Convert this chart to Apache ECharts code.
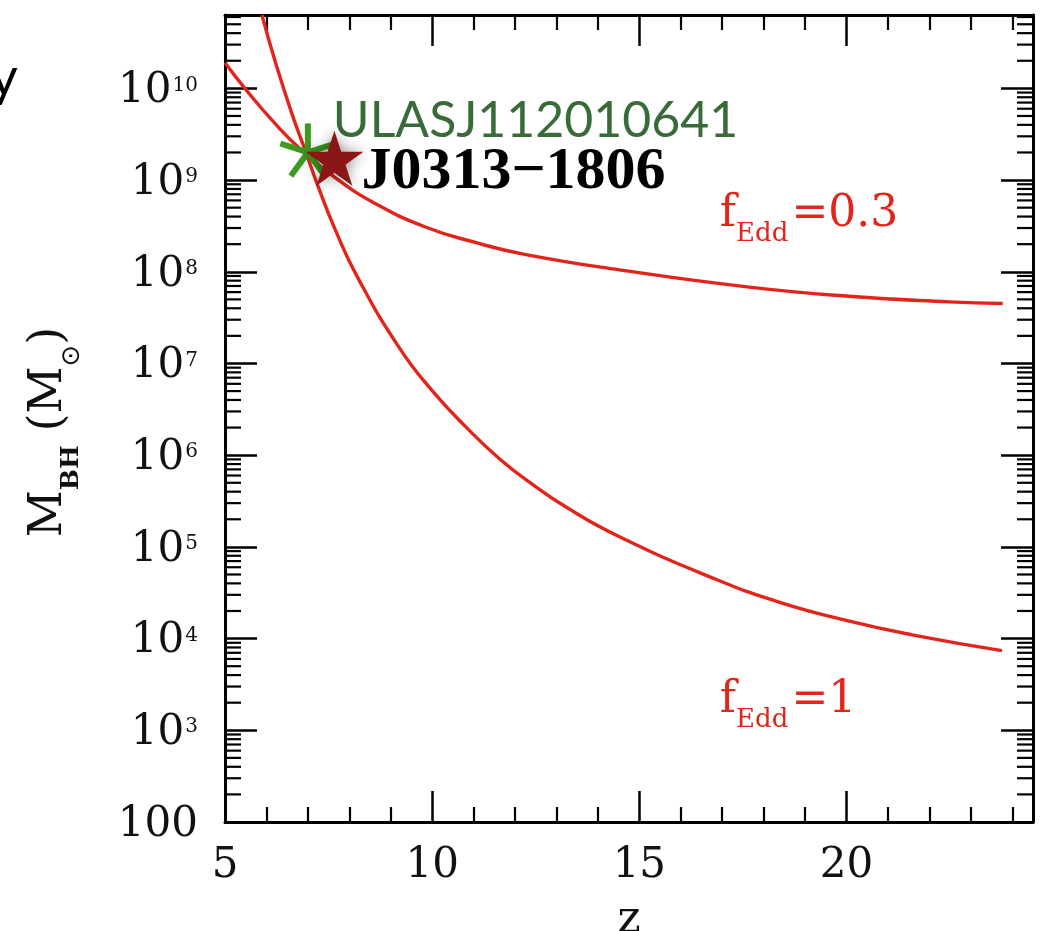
<!DOCTYPE html>
<html><head><meta charset="utf-8">
<script src="https://cdn.jsdelivr.net/npm/echarts@6/dist/echarts.min.js"></script>
<style>html,body{margin:0;padding:0;background:#fff}#c{width:1050px;height:931px}</style>
</head><body><div id="c"></div>
<script>
// ---- data ----
// f_Edd = 0.3 curve
const zFedd03 = [5.00, 5.48, 6.20, 6.86, 7.65, 8.61, 9.82, 11.02, 12.23, 14.52, 17.65, 20.06, 22.47, 23.77];
const mFedd03 = [1.9e10, 1.0e10, 4.17e9, 2.09e9, 1.07e9, 5.6e8, 3.1e8, 2.1e8, 1.55e8, 1.05e8, 6.8e7, 5.4e7, 4.7e7, 4.5e7];
// f_Edd = 1 curve
const zFedd1 = [5.89, 6.24, 6.61, 6.93, 7.24, 7.65, 8.20, 9.22, 10.01, 10.83, 11.63, 12.42, 13.24, 14.52, 16.76, 18.37, 19.99, 21.58, 23.75];
const mFedd1 = [6.3e10, 1.78e10, 5.37e9, 2.14e9, 8.7e8, 2.95e8, 8.7e7, 1.45e7, 5.0e6, 2.0e6, 9.1e5, 4.8e5, 2.7e5, 1.29e5, 4.6e4, 2.5e4, 1.58e4, 1.1e4, 7.4e3];
// quasars
const quasarNames = ['ULASJ112010641', 'J0313\u22121806'];
const quasarZ = [7.0, 7.64];
const quasarMass = [2.0e9, 1.6e9];
// curve labels
const eddValues = ['0.3', '1'];
const eddLabelZ = [16.93, 16.93];
const eddLabelMass = [4.0e8, 2.0e3];
// axes
const xTickLabels = [5, 10, 15, 20];
const yTickExponents = [2, 3, 4, 5, 6, 7, 8, 9, 10];

// ---- chart ----
const X_MIN = 5, X_MAX = 24.5, Y_MIN = 2, Y_MAX = 10.8;
const lg = Math.log10;
const red = '#e3241b';
const axisFont = 'DejaVu Serif';
const black = '#000';

const minorY = [];
for (let n = 2; n <= 10; n++) for (let k = 2; k <= 9; k++) {
  const v = n + lg(k); if (v < Y_MAX) minorY.push(v);
}

const starPath = (() => {
  let d = '';
  for (let i = 0; i < 10; i++) {
    const r = i % 2 === 0 ? 1 : 0.382;
    const a = (-90 + 36 * i) * Math.PI / 180;
    d += (i === 0 ? 'M' : 'L') + (r * Math.cos(a)).toFixed(4) + ' ' + (r * Math.sin(a)).toFixed(4) + ' ';
  }
  return 'path://' + d + 'Z';
})();

const yLabel = v => {
  if (Math.abs(v - Math.round(v)) > 1e-6) return '';
  const n = Math.round(v);
  if (yTickExponents.indexOf(n) < 0) return '';
  if (n === 2) return '{b|100}';
  return '{b|10}{s|' + n + '}';
};
const xLabel = v => (xTickLabels.indexOf(v) >= 0 ? String(v) : '');

const xCommon = {
  type: 'value', min: X_MIN, max: X_MAX, interval: 5,
  splitLine: {show: false}, minorSplitLine: {show: false},
  axisLine: {show: true, onZero: false, lineStyle: {color: black, width: 3}},
  axisTick: {show: true, inside: true, length: 31, lineStyle: {color: black, width: 2.5}},
  minorTick: {show: true, splitNumber: 5, length: 15, lineStyle: {color: black, width: 2.2}}
};
const yCommon = {
  type: 'value', min: Y_MIN, max: Y_MAX, interval: 1,
  splitLine: {show: false},
  axisLine: {show: true, onZero: false, lineStyle: {color: black, width: 3}},
  axisTick: {show: true, inside: true, length: 32, lineStyle: {color: black, width: 2.5}},
  minorTick: {show: false}
};

const chart = echarts.init(document.getElementById('c'));
chart.setOption({
  animation: false,
  backgroundColor: '#fff',
  graphic: [{
    type: 'text', x: -10, y: 52,
    style: {text: 'y', fontFamily: 'Lato', fontSize: 54, lineHeight: 54, fill: '#000', align: 'left', verticalAlign: 'top'}
  }],
  grid: {left: 225, right: 17, top: 15, bottom: 109, containLabel: false, outerBoundsMode: 'none'},
  xAxis: [
    Object.assign({}, xCommon, {
      position: 'bottom',
      axisLabel: {margin: 21, formatter: xLabel, fontFamily: axisFont, fontSize: 42, lineHeight: 46, color: '#111'},
      name: 'z', nameLocation: 'middle', nameGap: 77,
      nameTextStyle: {fontFamily: axisFont, fontSize: 44, lineHeight: 44, color: '#111'}
    }),
    Object.assign({}, xCommon, {position: 'top', axisLabel: {show: false}})
  ],
  yAxis: [
    Object.assign({}, yCommon, {
      position: 'left',
      axisLabel: {
        margin: 27, formatter: yLabel,
        rich: {
          b: {fontFamily: axisFont, fontSize: 42, lineHeight: 46, verticalAlign: 'top', padding: [5, 0, 0, 0], color: '#111'},
          s: {fontFamily: axisFont, fontSize: 20, lineHeight: 22, verticalAlign: 'top', padding: [10, 0, 0, 1], color: '#111'}
        }
      },
      name: '{m|M}{sb|BH}{sp| }{m|(M}{sun|\u2299}{m|)}',
      nameLocation: 'middle', nameGap: 147,
      nameTextStyle: {
        padding: [0, 27, 0, 0],
        rich: {
          m: {fontFamily: axisFont, fontSize: 46, lineHeight: 52, verticalAlign: 'top', color: '#111'},
          sb: {fontFamily: axisFont, fontWeight: 'bold', fontSize: 25, lineHeight: 26, verticalAlign: 'top', padding: [33, 0, 0, 0], color: '#111'},
          sp: {fontFamily: axisFont, fontSize: 46, lineHeight: 52, verticalAlign: 'top', width: 14},
          sun: {fontFamily: 'DejaVu Sans', fontSize: 26, lineHeight: 26, verticalAlign: 'top', padding: [33, 0, 0, 0], color: '#111'}
        }
      }
    }),
    Object.assign({}, yCommon, {position: 'right', axisLabel: {show: false}})
  ],
  series: [
    {
      type: 'line', name: 'fEdd=0.3', xAxisIndex: 0, yAxisIndex: 0, z: 2,
      data: zFedd03.map((z, i) => [z, lg(mFedd03[i])]),
      showSymbol: false, symbol: 'none', smooth: 0.5,
      lineStyle: {color: red, width: 3.4}
    },
    {
      type: 'line', name: 'fEdd=1', xAxisIndex: 0, yAxisIndex: 0, z: 2,
      data: zFedd1.map((z, i) => [z, lg(mFedd1[i])]),
      showSymbol: false, symbol: 'none', smooth: 0.5,
      lineStyle: {color: red, width: 3.4}
    },
    {
      type: 'custom', name: 'ULAS', xAxisIndex: 0, yAxisIndex: 0, z: 3, silent: true, clip: false,
      data: [[quasarZ[0], lg(quasarMass[0])]],
      renderItem: (params, api) => {
        const c = api.coord([api.value(0), api.value(1)]);
        const L = 29;
        const children = [90, 162, 234, 306, 18].map(a => {
          const r = a * Math.PI / 180;
          return {type: 'line', shape: {x1: c[0], y1: c[1], x2: c[0] + L * Math.cos(r), y2: c[1] - L * Math.sin(r)},
            style: {stroke: '#3d9a1f', lineWidth: 6, lineCap: 'butt'}};
        });
        children.push({type: 'text', x: c[0] + 25, y: c[1] - 32,
          style: {text: quasarNames[0], fontFamily: 'Lato', fontSize: 50, fill: '#386b38', align: 'left', verticalAlign: 'middle'}});
        return {type: 'group', children};
      }
    },
    {
      type: 'scatter', name: 'J0313', xAxisIndex: 0, yAxisIndex: 0, z: 4,
      data: [{name: quasarNames[1], value: [quasarZ[1], lg(quasarMass[1])]}],
      symbol: starPath, symbolSize: [58, 55], symbolOffset: [0, -3],
      itemStyle: {color: '#8a1616', opacity: 1, shadowBlur: 14, shadowColor: 'rgba(0,0,0,0.45)'},
      label: {show: true, formatter: '{b}', position: 'right', distance: 0, offset: [-2, 14],
        fontFamily: 'Liberation Serif', fontWeight: 'bold', fontSize: 60, color: '#000'}
    },
    {
      type: 'scatter', name: 'eddLabels', xAxisIndex: 0, yAxisIndex: 0, z: 4, silent: true,
      data: eddValues.map((v, i) => ({name: v, value: [eddLabelZ[i], lg(eddLabelMass[i])]})),
      symbolSize: 1, itemStyle: {color: 'rgba(0,0,0,0)', opacity: 1},
      label: {
        show: true, position: 'right', distance: 0, align: 'left', verticalAlign: 'middle',
        formatter: p => '{f|f}{sub|Edd}{eq|=' + p.name + '}',
        rich: {
          f: {fontFamily: axisFont, fontSize: 44, lineHeight: 48, verticalAlign: 'top', color: red},
          sub: {fontFamily: axisFont, fontSize: 26, lineHeight: 28, verticalAlign: 'top', padding: [29, 3, 0, 0], color: red},
          eq: {fontFamily: axisFont, fontSize: 44, lineHeight: 48, verticalAlign: 'top', color: red}
        }
      }
    },
    {
      type: 'custom', name: 'yMinorTicks', xAxisIndex: 0, yAxisIndex: 0, z: 5, silent: true, clip: false,
      data: minorY.map(v => [X_MIN, v]),
      renderItem: (params, api) => {
        const v = api.value(1);
        const pL = api.coord([X_MIN, v]);
        const pR = api.coord([X_MAX, v]);
        return {type: 'group', children: [
          {type: 'line', shape: {x1: pL[0], y1: pL[1], x2: pL[0] + 16, y2: pL[1]}, style: {stroke: black, lineWidth: 2.2}},
          {type: 'line', shape: {x1: pR[0] - 16, y1: pR[1], x2: pR[0], y2: pR[1]}, style: {stroke: black, lineWidth: 2.2}}
        ]};
      }
    }
  ]
});
</script>
</body></html>
